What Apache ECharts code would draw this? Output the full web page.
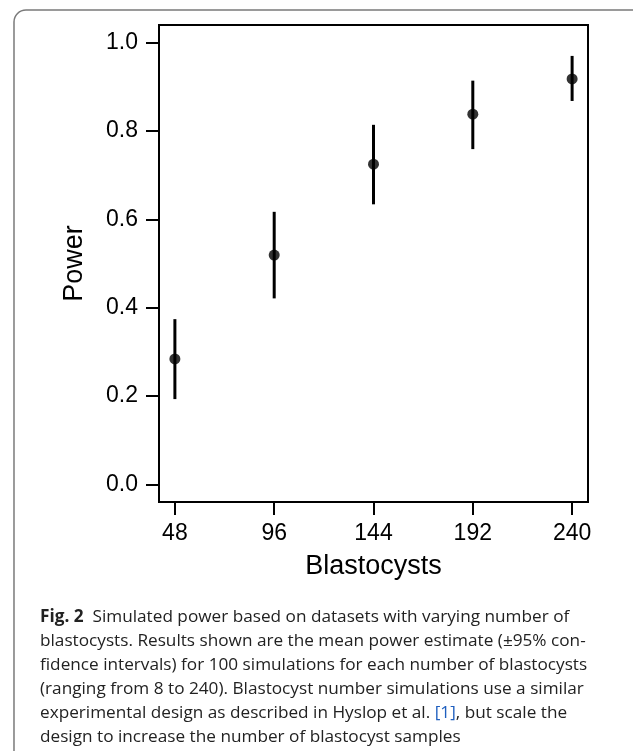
<!DOCTYPE html>
<html>
<head>
<meta charset="utf-8">
<script src="https://cdn.jsdelivr.net/npm/echarts@6/dist/echarts.min.js"></script>
<style>
  html, body { margin: 0; padding: 0; background: #fff; }
  #chart { width: 633px; height: 751px; }
</style>
</head>
<body>
<div id="chart"></div>
<script>
const blastocysts = [48, 96, 144, 192, 240];
const powerMean = [0.284, 0.519, 0.725, 0.838, 0.918];
const powerLow = [0.193, 0.421, 0.634, 0.759, 0.868];
const powerHigh = [0.374, 0.617, 0.814, 0.914, 0.970];
const yTicks = [0, 0.2, 0.4, 0.6, 0.8, 1.0];

const captionLines = [
  "{b|Fig. 2}  Simulated power based on datasets with varying number of",
  "blastocysts. Results shown are the mean power estimate (\u00b195% con-",
  "fidence intervals) for 100 simulations for each number of blastocysts",
  "(ranging from 8 to 240). Blastocyst number simulations use a similar",
  "experimental design as described in Hyslop et al. {ref|[1]}, but scale the",
  "design to increase the number of blastocyst samples"
];

const chart = echarts.init(document.getElementById("chart"));
const axisFont = "Liberation Sans, Arial, sans-serif";
const captionFont = "'Open Sans', 'Noto Sans', sans-serif";

chart.setOption({
  backgroundColor: "#fff",
  animation: false,
  grid: {
    left: 159, right: 45, top: 25, bottom: 249,
    show: true, borderColor: "#000", borderWidth: 2, backgroundColor: "transparent"
  },
  xAxis: {
    type: "value",
    min: 40.32, max: 247.68,
    name: "Blastocysts",
    nameLocation: "middle",
    nameGap: 51,
    nameTextStyle: { fontFamily: axisFont, fontSize: 27, color: "#000" },
    axisLine: { show: false, onZero: false },
    splitLine: { show: false },
    axisTick: { show: true, inside: false, length: 13, customValues: blastocysts, lineStyle: { color: "#000", width: 2 } },
    axisLabel: { customValues: blastocysts, margin: 20, fontFamily: axisFont, fontSize: 23, color: "#000" }
  },
  yAxis: {
    type: "value",
    min: -0.04, max: 1.04,
    name: "Power",
    nameLocation: "middle",
    nameGap: 71,
    nameTextStyle: { fontFamily: axisFont, fontSize: 27, color: "#000" },
    axisLine: { show: false, onZero: false },
    splitLine: { show: false },
    axisTick: { show: true, inside: false, length: 13, customValues: yTicks, lineStyle: { color: "#000", width: 2 } },
    axisLabel: {
      customValues: yTicks, margin: 21, fontFamily: axisFont, fontSize: 23, color: "#000",
      formatter: v => v.toFixed(1)
    }
  },
  series: [
    {
      type: "custom",
      data: blastocysts.map((x, i) => [x, powerLow[i], powerHigh[i]]),
      renderItem: (params, api) => {
        const lo = api.coord([api.value(0), api.value(1)]);
        const hi = api.coord([api.value(0), api.value(2)]);
        return {
          type: "line",
          shape: { x1: lo[0], y1: lo[1], x2: hi[0], y2: hi[1] },
          style: { stroke: "#000", lineWidth: 3 }
        };
      },
      z: 2
    },
    {
      type: "scatter",
      data: blastocysts.map((x, i) => [x, powerMean[i]]),
      symbol: "circle",
      symbolSize: 11,
      itemStyle: { color: "#000" },
      z: 3
    }
  ],
  graphic: [
    {
      type: "rect",
      shape: { x: 14, y: 10, width: 640, height: 800, r: 12 },
      style: { fill: "none", stroke: "#7a7a7a", lineWidth: 1.5 },
      silent: true
    },
    {
      type: "text",
      left: 40, top: 605,
      style: {
        text: captionLines.join("\n"),
        fontFamily: captionFont,
        fontSize: 17.2,
        lineHeight: 24,
        fill: "#222",
        rich: {
          b: { fontWeight: "bold", fontSize: 17.2, lineHeight: 24, fill: "#222", fontFamily: captionFont },
          ref: { fill: "#1f5fbf", fontSize: 17.2, lineHeight: 24, fontFamily: captionFont }
        }
      }
    }
  ]
});
</script>
</body>
</html>
